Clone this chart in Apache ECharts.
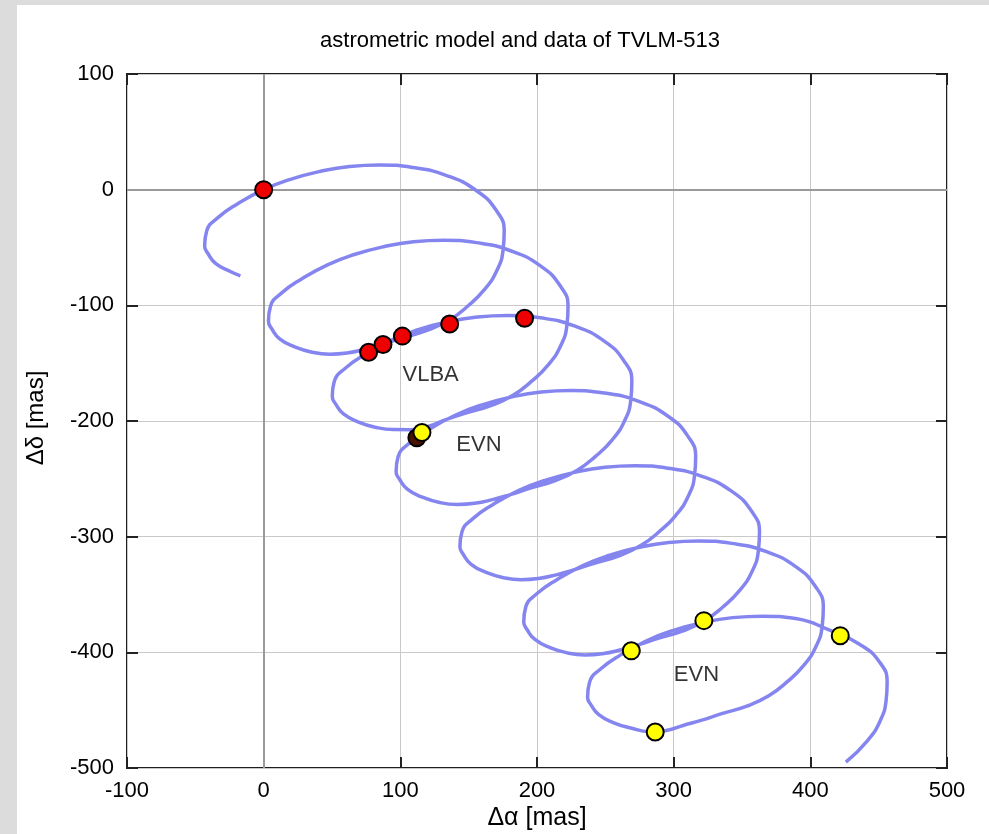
<!DOCTYPE html>
<html><head><meta charset="utf-8">
<script src="https://cdn.jsdelivr.net/npm/echarts@6/dist/echarts.min.js"></script>
<style>
html,body{margin:0;padding:0;background:#dcdcdc;width:989px;height:834px;overflow:hidden;}
#chart{position:absolute;left:17px;top:5px;width:972px;height:829px;background:#fff;}
</style></head>
<body><div id="chart"></div>
<script>
// ---- data ----
const titleText = 'astrometric model and data of TVLM-513';
const xTicks = [-100, 0, 100, 200, 300, 400, 500];
const yTicks = [100, 0, -100, -200, -300, -400, -500];

// model curve, x values [mas]
const modelX = [
 -17,-24,-35,-40.8,
 -43.2,-41.7,-33.7,-19.0,0,19.0,41.0,62.9,84.9,109.0,133.9,155.8,170.4,176.0,
 175.2,170.8,161.5,149.0,136.1,120.0,101.7,87.1,74.0,61.0,48.3,35.8,22.7,11.7,5.9,
 3.5,5.0,13.0,27.7,46.7,65.7,87.7,109.6,131.6,155.7,180.6,202.5,217.1,222.7,
 221.9,217.5,208.2,195.7,182.8,166.7,148.4,133.8,120.7,107.7,95.0,82.5,69.4,58.4,52.6,
 50.2,51.7,59.7,74.4,93.4,112.4,134.4,156.3,178.3,202.4,227.3,249.2,263.8,269.4,
 268.6,264.2,254.9,242.4,229.5,213.4,195.1,180.5,167.4,154.4,141.7,129.2,116.1,105.1,99.3,
 96.9,98.4,106.4,121.1,140.1,159.1,181.1,203.0,225.0,249.1,274.0,295.9,310.5,316.1,
 315.3,310.9,301.6,289.1,276.2,260.1,241.8,227.2,214.1,201.1,188.4,175.9,162.8,151.8,146.0,
 143.6,145.1,153.1,167.8,186.8,205.8,227.8,249.7,271.7,295.8,320.7,342.6,357.2,362.8,
 362.0,357.6,348.3,335.8,322.9,306.8,288.5,273.9,260.8,247.8,235.1,222.6,209.5,198.5,192.7,
 190.3,191.8,199.8,214.5,233.5,252.5,274.5,296.4,318.4,342.5,367.4,389.3,403.9,409.5,
 408.7,404.3,395.0,382.5,369.6,353.5,335.2,320.6,307.5,294.5,281.8,269.3,256.2,245.2,239.4,
 237.0,238.5,246.5,261.2,280.2,299.2,321.2,343.1,365.1,389.2,414.1,436.0,450.6,456.2,
 455.4,451.0,441.7,426
];
// model curve, y values [mas]
const modelY = [
 -74.5,-71,-64,-55.2,
 -48.8,-35.7,-24.4,-12.2,0,8.7,15.7,20.0,21.3,19.2,12.2,-0.9,-18.3,-36.0,
 -52.0,-69.5,-86.5,-101.0,-112.5,-121.5,-128.0,-133.6,-138.0,-141.2,-142.2,-140.6,-135.9,-128.9,-120.2,
 -113.8,-100.7,-89.4,-77.2,-65,-56.3,-49.3,-45.0,-43.7,-45.8,-52.8,-65.9,-83.3,-101.0,
 -117.0,-134.5,-151.5,-166.0,-177.5,-186.5,-193.0,-198.6,-204.5,-207.5,-207.4,-205.6,-200.9,-193.9,-185.2,
 -178.8,-165.7,-154.4,-142.2,-130,-121.3,-114.3,-110,-108.7,-110.8,-117.8,-130.9,-148.3,-166.0,
 -182.0,-199.5,-216.5,-231.0,-242.5,-251.5,-258.0,-263.6,-268.0,-271.2,-272.2,-270.6,-265.9,-258.9,-250.2,
 -243.8,-230.7,-219.4,-207.2,-195,-186.3,-179.3,-175,-173.7,-175.8,-182.8,-195.9,-213.3,-231.0,
 -247.0,-264.5,-281.5,-296.0,-307.5,-316.5,-323.0,-328.6,-333.0,-336.2,-337.2,-335.6,-330.9,-323.9,-315.2,
 -308.8,-295.7,-284.4,-272.2,-260,-251.3,-244.3,-240,-238.7,-240.8,-247.8,-260.9,-278.3,-296.0,
 -312.0,-329.5,-346.5,-361.0,-372.5,-381.5,-388.0,-393.6,-398.0,-401.2,-402.2,-400.6,-395.9,-388.9,-380.2,
 -373.8,-360.7,-349.4,-337.2,-325,-316.3,-309.3,-305,-303.7,-305.8,-312.8,-325.9,-343.3,-361.0,
 -377.0,-394.5,-411.5,-426.0,-437.5,-446.5,-453.0,-458.6,-463.0,-467.5,-468.5,-465.6,-460.9,-453.9,-445.2,
 -438.8,-425.7,-414.4,-402.2,-390,-381.3,-374.3,-370,-368.7,-370.8,-380.8,-393.0,-408.3,-426.0,
 -442.0,-459.5,-476.5,-495
];

// VLBA data (red)
const vlbaX = [0, 76.8, 87.3, 101.5, 136.1, 190.9];
const vlbaY = [0, -140.5, -133.9, -126.6, -116.1, -111.2];
// hidden dark point under the first EVN point
const darkX = [112.1];
const darkY = [-214.5];
// EVN data (yellow)
const evnX = [115.8, 269.0, 322.1, 421.9, 286.5];
const evnY = [-210.0, -398.7, -372.6, -385.6, -468.9];

// text labels in the plot
const labelNames = ['VLBA', 'EVN', 'EVN'];
const labelX = [101.6, 141.0, 300.1];
const labelY = [-160.3, -220.4, -419.6];

const zip = (a, b) => a.map((v, i) => [v, b[i]]);

const FONT = 'Liberation Sans, Arial, Helvetica, sans-serif';
const chart = echarts.init(document.getElementById('chart'), null, {renderer: 'canvas'});

const axisCommon = {
  type: 'value',
  interval: 100,
  splitLine: {show: true, lineStyle: {color: '#c9c9c9', width: 1}},
  axisLine: {show: false, onZero: false},
  axisTick: {show: true, inside: true, length: 11, lineStyle: {color: '#222', width: 2}}
};

chart.setOption({
  animation: false,
  backgroundColor: '#fff',
  grid: {left: 110, top: 69, right: 42, bottom: 66, show: true,
         borderColor: '#1e1e1e', borderWidth: 2, backgroundColor: 'transparent'},
  xAxis: [
    Object.assign({}, axisCommon, {min: xTicks[0], max: xTicks[xTicks.length - 1], position: 'bottom',
      axisLabel: {show: true, margin: 12, fontSize: 22, color: '#000', fontFamily: FONT}}),
    Object.assign({}, axisCommon, {min: xTicks[0], max: xTicks[xTicks.length - 1], position: 'top',
      splitLine: {show: false}, axisLabel: {show: false}})
  ],
  yAxis: [
    Object.assign({}, axisCommon, {min: yTicks[yTicks.length - 1], max: yTicks[0], position: 'left',
      axisLabel: {show: true, margin: 13, fontSize: 22, color: '#000', fontFamily: FONT}}),
    Object.assign({}, axisCommon, {min: yTicks[yTicks.length - 1], max: yTicks[0], position: 'right',
      splitLine: {show: false}, axisLabel: {show: false}})
  ],
  graphic: [
    {type: 'text', id: 'title', x: 503, y: 36,
     style: {text: titleText, fontSize: 22, fontFamily: FONT, fill: '#000', textAlign: 'center', textVerticalAlign: 'middle'}},
    {type: 'text', id: 'xname', x: 520, y: 813,
     style: {text: 'Δα [mas]', fontSize: 25, fontFamily: FONT, fill: '#000', textAlign: 'center', textVerticalAlign: 'middle'}},
    {type: 'text', id: 'yname', x: 19, y: 413, rotation: Math.PI / 2,
     style: {text: 'Δδ [mas]', fontSize: 24, fontFamily: FONT, fill: '#000', textAlign: 'center', textVerticalAlign: 'middle'}}
  ],
  series: [
    {
      type: 'line', data: zip(modelX, modelY), showSymbol: false, smooth: 0.5, z: 2,
      lineStyle: {color: '#8585f0', width: 3.5}, silent: true,
      markLine: {silent: true, symbol: 'none', label: {show: false}, z: 1,
        lineStyle: {color: '#9a9a9a', width: 2, type: 'solid'},
        data: [{xAxis: 0}, {yAxis: 0}]}
    },
    {type: 'scatter', data: zip(vlbaX, vlbaY), symbolSize: 17, z: 5,
     itemStyle: {color: '#ee0000', borderColor: '#000', borderWidth: 2, opacity: 1}},
    {type: 'scatter', data: zip(darkX, darkY), symbolSize: 17, z: 5,
     itemStyle: {color: '#4a1200', borderColor: '#000', borderWidth: 2, opacity: 1}},
    {type: 'scatter', data: zip(evnX, evnY), symbolSize: 17, z: 6,
     itemStyle: {color: '#ffff00', borderColor: '#000', borderWidth: 2, opacity: 1}},
    {type: 'scatter', symbolSize: 0, z: 7, silent: true,
     data: labelNames.map((n, i) => ({name: n, value: [labelX[i], labelY[i]]})),
     label: {show: true, position: 'right', distance: 0, formatter: p => p.name,
             fontSize: 22, fontFamily: FONT, color: '#000', align: 'left', verticalAlign: 'middle'}}
  ]
});
</script></body></html>
